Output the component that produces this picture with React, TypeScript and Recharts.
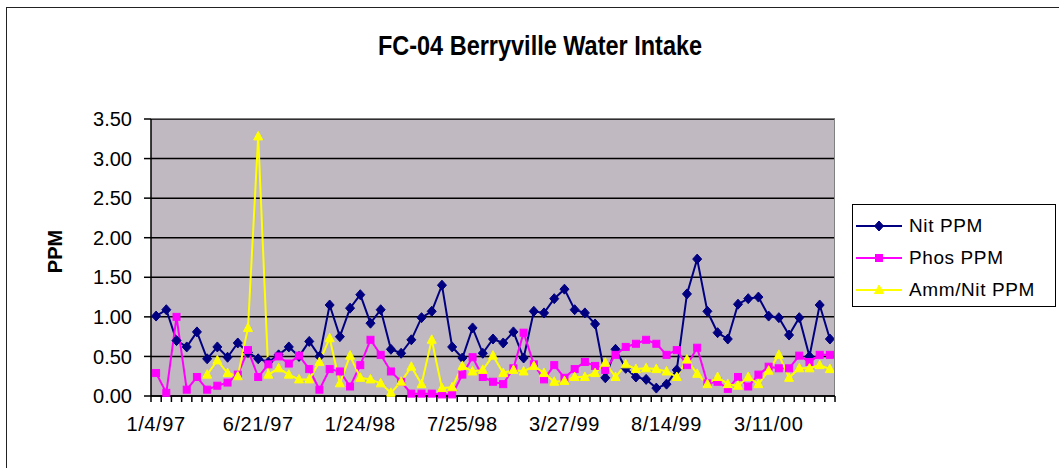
import { CartesianGrid, Label, Legend, Line, LineChart, XAxis, YAxis } from "recharts";

// sample number along the category axis; only every 10th one carries a date label
const samples = Array.from({ length: 67 }, (_, i) => i + 1);
const dateLabels = ["1/4/97", "6/21/97", "1/24/98", "7/25/98", "3/27/99", "8/14/99", "3/11/00"];

const nitPpm = [
	1.01, 1.09, 0.7, 0.62, 0.81, 0.47, 0.62, 0.49, 0.67, 0.55,
	0.47, 0.43, 0.52, 0.62, 0.5, 0.69, 0.5, 1.15, 0.75, 1.11,
	1.28, 0.92, 1.09, 0.59, 0.54, 0.71, 0.99, 1.07, 1.4, 0.62,
	0.48, 0.86, 0.54, 0.72, 0.67, 0.81, 0.48, 1.07, 1.05, 1.23,
	1.35, 1.09, 1.05, 0.91, 0.23, 0.59, 0.35, 0.24, 0.21, 0.1,
	0.15, 0.33, 1.29, 1.73, 1.07, 0.8, 0.72, 1.16, 1.23, 1.25,
	1.01, 0.99, 0.77, 0.99, 0.5, 1.15, 0.72,
];

const phosPpm = [
	0.29, 0.04, 1.0, 0.08, 0.24, 0.08, 0.13, 0.17, 0.27, 0.58,
	0.24, 0.4, 0.5, 0.41, 0.51, 0.34, 0.08, 0.34, 0.31, 0.12,
	0.39, 0.71, 0.52, 0.31, 0.18, 0.03, 0.03, 0.03, 0.02, 0.02,
	0.27, 0.49, 0.24, 0.18, 0.15, 0.35, 0.8, 0.4, 0.21, 0.39,
	0.23, 0.34, 0.43, 0.38, 0.33, 0.52, 0.62, 0.66, 0.71, 0.66,
	0.52, 0.58, 0.39, 0.61, 0.16, 0.18, 0.09, 0.24, 0.12, 0.27,
	0.37, 0.35, 0.35, 0.51, 0.43, 0.52, 0.52,
];

const ammNitPpm = [
	null, null, null, null, null, 0.27, 0.45, 0.29, 0.25, 0.86,
	3.28, 0.27, 0.35, 0.27, 0.21, 0.21, 0.43, 0.73, 0.16, 0.51,
	0.23, 0.21, 0.16, 0.04, 0.18, 0.37, 0.15, 0.71, 0.1, 0.11,
	0.38, 0.31, 0.33, 0.51, 0.29, 0.33, 0.31, 0.38, 0.29, 0.18,
	0.19, 0.24, 0.24, 0.29, 0.42, 0.24, 0.4, 0.34, 0.35, 0.34,
	0.31, 0.24, 0.46, 0.28, 0.15, 0.24, 0.15, 0.13, 0.24, 0.15,
	0.32, 0.52, 0.23, 0.35, 0.35, 0.39, 0.34,
];

const yTicks = [0, 0.5, 1, 1.5, 2, 2.5, 3, 3.5];

const data = samples.map((s, i) => ({
	sample: s,
	nit: nitPpm[i],
	phos: phosPpm[i],
	amm: ammNitPpm[i],
}));

const FONT = '"Liberation Sans", Arial, sans-serif';
const NIT = "#000080";
const PHOS = "#FF00FF";
const AMM = "#FFFF00";

// plot box in page pixels
const PLOT_LEFT = 151;
const PLOT_TOP = 119;
const PLOT_W = 684;
const PLOT_H = 277;
const HALF_STEP = PLOT_W / samples.length / 2;

function Marker({ kind, cx, cy, color }: { kind: string; cx: number; cy: number; color: string }) {
	if (kind === "diamond")
		return <polygon points={`${cx},${cy - 5} ${cx + 4.5},${cy} ${cx},${cy + 5} ${cx - 4.5},${cy}`} fill={color} stroke={color} />;
	if (kind === "square") return <rect x={cx - 3.5} y={cy - 3.5} width={7} height={7} fill={color} stroke={color} />;
	return <polygon points={`${cx},${cy - 5} ${cx + 4.5},${cy + 3.5} ${cx - 4.5},${cy + 3.5}`} fill={color} stroke={color} />;
}

const dotFor = (kind: string, color: string) => (p: any) => {
	if (p.cx == null || p.cy == null || p.value == null) return <g key={`${kind}-${p.index}`} />;
	return <Marker key={`${kind}-${p.index}`} kind={kind} cx={p.cx} cy={p.cy} color={color} />;
};

function CategoryTick(props: any) {
	const { x, y, index } = props;
	const label = index % 10 === 0 ? dateLabels[index / 10] : null;
	return (
		<g>
			<line x1={x - HALF_STEP} x2={x - HALF_STEP} y1={y} y2={y + 6} stroke="#000" strokeWidth={1.5} />
			{index === samples.length - 1 && (
				<line x1={x + HALF_STEP} x2={x + HALF_STEP} y1={y} y2={y + 6} stroke="#000" strokeWidth={1.5} />
			)}
			{label && (
				<text x={x} y={y + 35} textAnchor="middle" fontSize={20} fontFamily={FONT} fill="#000" letterSpacing={0.6}>
					{label}
				</text>
			)}
		</g>
	);
}

const legendOrder = ["nit", "phos", "amm"];
const shapes: Record<string, { kind: string; color: string }> = {
	nit: { kind: "diamond", color: NIT },
	phos: { kind: "square", color: PHOS },
	amm: { kind: "triangle", color: AMM },
};

function LegendBox({ payload }: any) {
	const items = [...(payload || [])].sort(
		(a: any, b: any) => legendOrder.indexOf(a.dataKey) - legendOrder.indexOf(b.dataKey),
	);
	return (
		<div
			style={{
				border: "1px solid #000",
				background: "#fff",
				width: 204,
				height: 103,
				boxSizing: "border-box",
				padding: "5px 0 0 3px",
			}}
		>
			{items.map((item: any) => {
				const s = shapes[item.dataKey];
				return (
					<div key={item.dataKey} style={{ display: "flex", alignItems: "center", height: 32 }}>
						<svg width={48} height={14} style={{ flex: "none" }}>
							<line x1={0} x2={46} y1={7} y2={7} stroke={s.color} strokeWidth={2} />
							<Marker kind={s.kind} cx={23} cy={7} color={s.color} />
						</svg>
						<span style={{ fontFamily: FONT, fontSize: 19, marginLeft: 5, letterSpacing: 0.6, color: "#000" }}>
							{item.value}
						</span>
					</div>
				);
			})}
		</div>
	);
}

export default function App() {
	return (
		<div style={{ position: "absolute", left: 0, top: 0, width: 1059, height: 468, overflow: "hidden", background: "#fff" }}>
			<div
				style={{
					position: "absolute",
					left: 6,
					top: 7,
					width: 1100,
					height: 500,
					border: "1.5px solid #222",
				}}
			/>
			<div
				style={{
					position: "absolute",
					left: 0,
					width: 1080,
					top: 31,
					textAlign: "center",
					fontFamily: FONT,
					fontWeight: "bold",
					fontSize: 27,
					color: "#000",
					transform: "scaleX(0.87)",
					transformOrigin: "540px 0",
				}}
			>
				FC-04 Berryville Water Intake
			</div>
			<div style={{ position: "absolute", left: 0, top: 0 }}>
				<LineChart
					width={1059}
					height={468}
					data={data}
					margin={{ top: PLOT_TOP, right: 1059 - PLOT_LEFT - PLOT_W, bottom: 468 - PLOT_TOP - PLOT_H - 30, left: PLOT_LEFT - 60 }}
				>
					<CartesianGrid vertical={false} stroke="#000" strokeWidth={1.5} fill="#C0B9C1" fillOpacity={1} />
					<XAxis
						dataKey="sample"
						type="category"
						height={30}
						interval={0}
						padding={{ left: HALF_STEP, right: HALF_STEP }}
						tickSize={0}
						tickMargin={0}
						tickLine={false}
						axisLine={{ stroke: "#000", strokeWidth: 1.5 }}
						tick={<CategoryTick />}
					/>
					<YAxis
						width={60}
						domain={[0, 3.5]}
						ticks={yTicks}
						tickFormatter={(v: number) => v.toFixed(2)}
						tickSize={7}
						tickMargin={12}
						axisLine={{ stroke: "#000", strokeWidth: 1.5 }}
						tickLine={{ stroke: "#000", strokeWidth: 1.5 }}
						tick={{ fill: "#000", fontSize: 20, fontFamily: FONT }}
					>
						<Label
							content={({ viewBox }: any) => {
								const cx = viewBox.x - 36;
								const cy = viewBox.y + viewBox.height / 2 - 6;
								return (
									<text
										x={cx}
										y={cy}
										transform={`rotate(-90 ${cx} ${cy})`}
										textAnchor="middle"
										dominantBaseline="central"
										fontFamily={FONT}
										fontWeight="bold"
										fontSize={20}
										fill="#000"
									>
										PPM
									</text>
								);
							}}
						/>
					</YAxis>
					<Legend
						layout="vertical"
						align="center"
						verticalAlign="middle"
						wrapperStyle={{ left: 852, top: 204, width: 204, height: 103 }}
						content={<LegendBox />}
					/>
					<Line
						dataKey="nit"
						name="Nit PPM"
						stroke={NIT}
						strokeWidth={2}
						dot={dotFor("diamond", NIT)}
						activeDot={false}
						isAnimationActive={false}
					/>
					<Line
						dataKey="phos"
						name="Phos PPM"
						stroke={PHOS}
						strokeWidth={2}
						dot={dotFor("square", PHOS)}
						activeDot={false}
						isAnimationActive={false}
					/>
					<Line
						dataKey="amm"
						name="Amm/Nit PPM"
						stroke={AMM}
						strokeWidth={2}
						dot={dotFor("triangle", AMM)}
						activeDot={false}
						isAnimationActive={false}
					/>
				</LineChart>
			</div>
			<div
				style={{
					position: "absolute",
					left: PLOT_LEFT,
					top: PLOT_TOP - 1,
					width: PLOT_W,
					height: PLOT_H,
					borderTop: "1.5px solid #808080",
					borderRight: "1.5px solid #808080",
					boxSizing: "border-box",
					pointerEvents: "none",
				}}
			/>
		</div>
	);
}
